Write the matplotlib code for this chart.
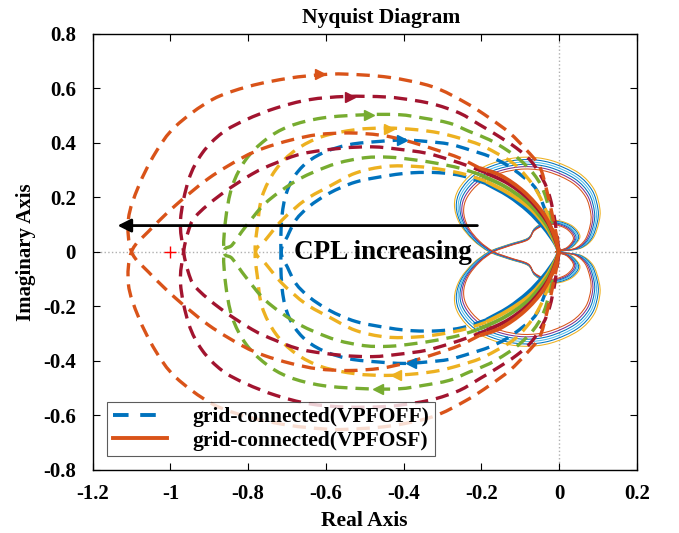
import matplotlib
matplotlib.use("Agg")
import matplotlib.pyplot as plt
import numpy as np
from matplotlib.lines import Line2D
from matplotlib.path import Path
from matplotlib.patches import PathPatch

plt.rcParams['font.family'] = ['Liberation Serif', 'DejaVu Serif']
plt.rcParams['font.weight'] = 'bold'

# ---------------- data (real, imag) ----------------
# VPFOFF dashed loops: upper halves. "tail" = solid part near origin (origin -> inner start),
# "inner" = inner upper arc (tail end -> real-axis crossing),
# "outer" = outer upper arc (crossing -> origin)
blue_tail = [(0.0, 0.0), (-0.012, 0.035), (-0.04, 0.09), (-0.08, 0.15), (-0.13, 0.205), (-0.187, 0.25)]
blue_inner = [(-0.187, 0.25), (-0.247, 0.278), (-0.308, 0.29), (-0.376, 0.29), (-0.437, 0.28),
              (-0.523, 0.256), (-0.591, 0.215), (-0.643, 0.166), (-0.677, 0.117), (-0.699, 0.056), (-0.715, 0.0)]
blue_outer = [(-0.715, 0.0), (-0.712, 0.142), (-0.695, 0.240), (-0.660, 0.313), (-0.609, 0.362),
              (-0.540, 0.393), (-0.462, 0.405), (-0.40, 0.41), (-0.342, 0.405), (-0.282, 0.395),
              (-0.230, 0.374), (-0.179, 0.350), (-0.135, 0.319), (-0.093, 0.276), (-0.058, 0.228),
              (-0.03, 0.13), (0.0, 0.0)]

yellow_tail = [(0.0, 0.0), (-0.01, 0.035), (-0.035, 0.095), (-0.075, 0.16), (-0.13, 0.215), (-0.187, 0.258)]
yellow_inner = [(-0.187, 0.258), (-0.239, 0.283), (-0.299, 0.301), (-0.368, 0.313), (-0.445, 0.313),
                (-0.523, 0.289), (-0.591, 0.240), (-0.652, 0.191), (-0.712, 0.117), (-0.755, 0.044), (-0.781, 0.0)]
yellow_outer = [(-0.781, 0.0), (-0.776, 0.093), (-0.764, 0.203), (-0.729, 0.301), (-0.677, 0.374),
                (-0.609, 0.423), (-0.523, 0.448), (-0.445, 0.454), (-0.368, 0.448), (-0.308, 0.436),
                (-0.256, 0.417), (-0.204, 0.393), (-0.161, 0.362), (-0.118, 0.325), (-0.084, 0.276),
                (-0.054, 0.215), (-0.025, 0.12), (0.0, 0.0)]

green_tail = [(0.0, 0.0), (-0.01, 0.04), (-0.035, 0.105), (-0.08, 0.18), (-0.14, 0.24), (-0.204, 0.283)]
green_inner = [(-0.204, 0.283), (-0.256, 0.307), (-0.316, 0.325), (-0.376, 0.338), (-0.437, 0.347),
               (-0.50, 0.345), (-0.57, 0.325), (-0.635, 0.29), (-0.686, 0.252), (-0.755, 0.179),
               (-0.806, 0.093), (-0.841, 0.025), (-0.862, 0.0)]
green_outer = [(-0.862, 0.0), (-0.858, 0.117), (-0.841, 0.240), (-0.806, 0.338), (-0.755, 0.411),
               (-0.695, 0.460), (-0.609, 0.491), (-0.497, 0.503), (-0.411, 0.503), (-0.351, 0.491),
               (-0.282, 0.472), (-0.230, 0.441), (-0.179, 0.411), (-0.135, 0.374), (-0.101, 0.338),
               (-0.067, 0.289), (-0.041, 0.228), (-0.02, 0.13), (0.0, 0.0)]

darkred_tail = [(0.0, 0.0), (-0.008, 0.04), (-0.03, 0.11), (-0.075, 0.19), (-0.13, 0.25), (-0.187, 0.289)]
darkred_inner = [(-0.187, 0.289), (-0.230, 0.313), (-0.282, 0.338), (-0.342, 0.362), (-0.411, 0.376),
                 (-0.48, 0.385), (-0.56, 0.38), (-0.660, 0.36), (-0.73, 0.325), (-0.79, 0.285),
                 (-0.87, 0.21), (-0.935, 0.13), (-0.955, 0.07), (-0.966, 0.0)]
darkred_outer = [(-0.966, 0.0), (-0.974, 0.117), (-0.953, 0.264), (-0.918, 0.362), (-0.867, 0.436),
                 (-0.806, 0.484), (-0.729, 0.527), (-0.643, 0.558), (-0.548, 0.570), (-0.445, 0.568),
                 (-0.37, 0.555), (-0.316, 0.539), (-0.256, 0.509), (-0.204, 0.466), (-0.161, 0.429),
                 (-0.110, 0.381), (-0.071, 0.331), (-0.041, 0.264), (-0.024, 0.203), (-0.01, 0.11), (0.0, 0.0)]

orange_tail = [(0.0, 0.0), (-0.012, 0.06), (-0.04, 0.14), (-0.09, 0.22), (-0.15, 0.28), (-0.204, 0.307)]
orange_inner = [(-0.204, 0.307), (-0.256, 0.344), (-0.316, 0.374), (-0.394, 0.408), (-0.46, 0.428),
                (-0.54, 0.436), (-0.62, 0.43), (-0.69, 0.41), (-0.76, 0.38), (-0.815, 0.345),
                (-0.901, 0.27), (-0.987, 0.17), (-1.056, 0.075), (-1.10, 0.0)]
orange_outer = [(-1.10, 0.0), (-1.108, 0.12), (-1.082, 0.240), (-1.039, 0.362), (-0.987, 0.460),
                (-0.893, 0.558), (-0.798, 0.607), (-0.695, 0.637), (-0.609, 0.650), (-0.549, 0.652),
                (-0.437, 0.64), (-0.326, 0.606), (-0.239, 0.546), (-0.179, 0.491), (-0.127, 0.436),
                (-0.084, 0.374), (-0.050, 0.313), (-0.032, 0.228), (-0.015, 0.12), (-0.004, 0.04), (0.0, 0.0)]

# direction arrows on the VPFOFF loops
arrow_right_pts = [(-0.404, 0.41), (-0.437, 0.452), (-0.488, 0.503), (-0.538, 0.568), (-0.616, 0.652)]
arrow_left_pts = [(-0.381, -0.41), (-0.42, -0.454), (-0.465, -0.504)]

# VPFOSF thin solid curves: big upper lobe (origin -> crossing), small upper lobe (crossing -> origin)
osf_big = [(0.0, 0.0), (0.015, 0.004), (0.058, 0.014), (0.088, 0.05), (0.103, 0.11), (0.105, 0.16),
           (0.09, 0.23), (0.05, 0.29), (-0.02, 0.335), (-0.09, 0.347), (-0.16, 0.33), (-0.22, 0.29),
           (-0.258, 0.23), (-0.269, 0.17), (-0.256, 0.105), (-0.222, 0.044), (-0.18, 0.0)]
osf_small = [(-0.18, 0.0), (-0.131, 0.026), (-0.08, 0.05), (-0.062, 0.087), (-0.032, 0.111),
             (0.002, 0.113), (0.036, 0.093), (0.054, 0.056), (0.036, 0.019), (0.011, 0.005), (0.0, 0.0)]
osf_scale = [1.0, 0.975, 0.95, 0.925, 0.90, 0.875]

x_ticks = [-1.2, -1.0, -0.8, -0.6, -0.4, -0.2, 0.0, 0.2]
x_labels = ['-1.2', '-1', '-0.8', '-0.6', '-0.4', '-0.2', '0', '0.2']
y_ticks = [-0.8, -0.6, -0.4, -0.2, 0.0, 0.2, 0.4, 0.6, 0.8]
y_labels = ['-0.8', '-0.6', '-0.4', '-0.2', '0', '0.2', '0.4', '0.6', '0.8']
legend_labels = ['grid-connected(VPFOFF)', 'grid-connected(VPFOSF)']

# ---------------- styles ----------------
C_BLUE, C_YEL, C_GRN, C_DRED, C_ORG = '#0072BD', '#EDB120', '#77AC30', '#A2142F', '#D95319'
C_LBLUE, C_PURP = '#4DBEEE', '#7E2F8E'
osf_colors = [C_YEL, C_BLUE, C_LBLUE, C_BLUE, C_PURP, C_ORG]
DASH = (4.0, 2.4)


def smooth_path(x, y):
    """Smooth Bezier path passing through the given points (rendering only)."""
    P = np.column_stack([x, y])
    n = len(P)
    verts = [P[0]]
    codes = [Path.MOVETO]
    for k in range(n - 1):
        p0 = P[k - 1] if k > 0 else P[k]
        p1 = P[k]
        p2 = P[k + 1]
        p3 = P[k + 2] if k + 2 < n else P[k + 1]
        verts += [p1 + (p2 - p0) / 6.0, p2 - (p3 - p1) / 6.0, p2]
        codes += [Path.CURVE4] * 3
    return Path(verts, codes)


def draw(ax, x, y, **kw):
    ax.add_patch(PathPatch(smooth_path(x, y), fill=False, **kw))


fig = plt.figure(figsize=(6.79, 5.33), dpi=100)
ax = fig.add_axes([0.1365, 0.1188, 0.8012, 0.8178])
ax.set_xlim(-1.2, 0.2)
ax.set_ylim(-0.8, 0.8)

# dotted zero lines
ax.axhline(0, color='#b0b0b0', ls=':', lw=1.0, zorder=1)
ax.axvline(0, color='#b0b0b0', ls=':', lw=1.0, zorder=1)

# VPFOSF thin curves
big = np.array(osf_big)
small = np.array(osf_small)
cx = -0.08
for s, col in zip(osf_scale, osf_colors):
    bx = cx + s * (big[:, 0] - cx)
    by = s * big[:, 1]
    sx = cx + s * (small[:, 0] - cx)
    sy = s * small[:, 1]
    px = np.concatenate([bx, sx[1:]])
    py = np.concatenate([by, -sy[1:]])
    draw(ax, px, py, edgecolor=col, lw=0.75, zorder=2)
    draw(ax, px, -py, edgecolor=col, lw=0.75, zorder=2)

series = [(C_BLUE, blue_tail, blue_inner, blue_outer),
          (C_YEL, yellow_tail, yellow_inner, yellow_outer),
          (C_GRN, green_tail, green_inner, green_outer),
          (C_DRED, darkred_tail, darkred_inner, darkred_outer),
          (C_ORG, orange_tail, orange_inner, orange_outer)]

for col, tail, inner, outer in series:
    t = np.array(tail)
    i = np.array(inner)
    o = np.array(outer)
    px = np.concatenate([i[:, 0], o[1:, 0]])
    py = np.concatenate([i[:, 1], -o[1:, 1]])
    for sgn in (1, -1):
        draw(ax, px, sgn * py, edgecolor=col, lw=2.4, ls=(0, DASH), zorder=3, capstyle='butt')
        draw(ax, t[:, 0], sgn * t[:, 1], edgecolor=col, lw=2.8, zorder=3, capstyle='butt')

arrow_cols_r = [C_BLUE, C_YEL, C_GRN, C_DRED, C_ORG]
for (x, y), col in zip(arrow_right_pts, arrow_cols_r):
    ax.plot([x], [y], marker='>', color=col, ms=7, mec=col, zorder=4)
arrow_cols_l = [C_BLUE, C_YEL, C_GRN]
for (x, y), col in zip(arrow_left_pts, arrow_cols_l):
    ax.plot([x], [y], marker='<', color=col, ms=7, mec=col, zorder=4)

# critical point
ax.plot([-1], [0], marker='+', color='red', ms=9, mew=1.0, zorder=4)

# CPL arrow and text
ax.annotate('', xy=(-1.136, 0.096), xytext=(-0.21, 0.096),
            arrowprops=dict(arrowstyle='-|>', color='black', lw=2.0, mutation_scale=20,
                            shrinkA=0, shrinkB=0), zorder=5)
ax.text(-0.454, -0.002, 'CPL increasing', fontsize=19.5, fontweight='bold', ha='center', va='center', zorder=5)

# axes styling
ax.set_xticks(x_ticks)
ax.set_xticklabels(x_labels)
ax.set_yticks(y_ticks)
ax.set_yticklabels(y_labels)
ax.tick_params(direction='in', top=True, right=True, length=5, width=0.8, labelsize=15, pad=10)
ax.tick_params(axis='y', pad=12)
for sp in ax.spines.values():
    sp.set_linewidth(1.0)
ax.set_title('Nyquist Diagram', fontsize=15.5, fontweight='bold', pad=8, x=0.53)
ax.set_xlabel('Real Axis', fontsize=15.5, fontweight='bold', labelpad=5)
ax.set_ylabel('Imaginary Axis', fontsize=15, fontweight='bold', labelpad=5)

handles = [Line2D([], [], color=C_BLUE, lw=2.8, ls=(0, (4.0, 3.0))),
           Line2D([], [], color=C_ORG, lw=2.8)]
leg = ax.legend(handles, legend_labels, loc='lower left', bbox_to_anchor=(0.027, 0.031),
                fontsize=15.5, frameon=True, fancybox=False, edgecolor='#333333',
                handlelength=2.5, handletextpad=1.2, borderpad=0.25, labelspacing=0.15,
                borderaxespad=0)
leg.get_frame().set_linewidth(0.8)
leg.set_zorder(10)

fig.savefig('out.png', dpi=100)
